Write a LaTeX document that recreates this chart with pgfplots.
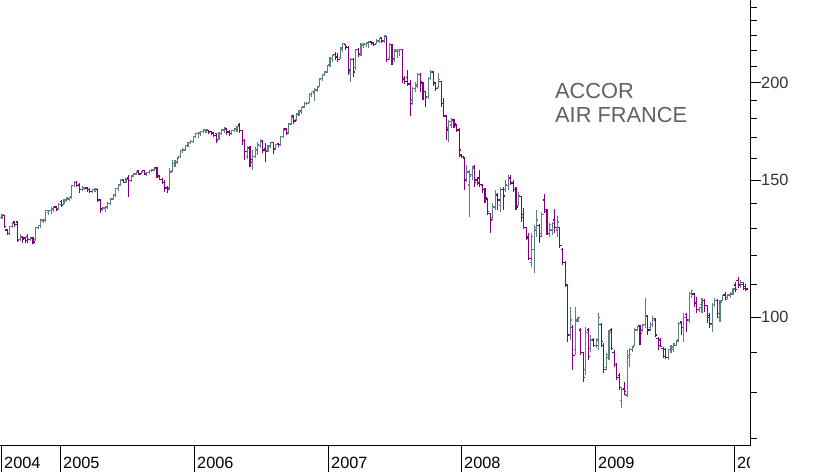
\documentclass[border=0pt]{standalone}
\usepackage{pgfplots}
\usepackage{pgfplotstable}
\pgfplotsset{compat=1.18}
\usepackage{fontspec}
\setmainfont{Liberation Sans}
\definecolor{upc}{RGB}{94,126,134}
\definecolor{dnc}{RGB}{128,0,128}
\pgfdeclareplotmark{tickR}{\pgfpathmoveto{\pgfpointorigin}\pgfpathlineto{\pgfpoint{\pgfplotmarksize}{0pt}}\pgfusepathqstroke}
\pgfdeclareplotmark{tickL}{\pgfpathmoveto{\pgfpoint{-\pgfplotmarksize}{0pt}}\pgfpathlineto{\pgfpointorigin}\pgfusepathqstroke}
\pgfplotstableread{
o h l c
134.1 135.7 133.7 135.3
134.9 135.3 130.2 130.6
129.4 129.8 127.5 127.9
127.9 131.0 127.5 130.6
130.6 132.5 130.2 131.8
132.5 132.9 130.6 131.4
132.5 132.9 124.9 125.3
125.7 127.9 125.3 127.1
126.7 127.1 124.5 125.7
126.4 126.7 124.5 125.3
127.1 127.9 124.5 125.7
125.7 126.7 125.3 126.4
126.4 126.7 124.2 124.9
125.7 130.6 125.3 130.2
130.2 131.4 129.8 131.0
131.0 133.7 130.2 133.3
132.9 133.7 132.1 133.3
133.3 137.3 132.5 136.9
136.1 137.3 135.3 136.9
136.9 138.5 135.7 137.7
137.7 138.9 136.5 138.5
138.5 138.9 136.9 137.3
137.7 140.1 137.7 139.7
140.6 141.4 138.5 139.3
139.7 141.8 139.7 141.4
141.4 142.7 140.6 142.3
141.8 142.7 141.0 142.3
142.7 147.8 141.8 147.4
147.4 149.6 146.9 149.1
149.1 149.6 146.9 147.4
147.8 148.7 144.4 145.7
145.7 147.4 145.2 146.5
146.1 146.9 145.7 146.5
146.5 146.9 144.8 145.7
145.7 146.5 144.4 144.8
144.8 146.1 144.4 145.7
145.7 146.5 144.8 146.1
145.7 146.1 140.6 141.4
141.4 141.8 136.1 137.7
137.3 138.5 136.9 138.1
138.1 138.9 136.5 138.5
138.5 140.6 137.7 140.1
140.1 142.3 139.3 141.8
141.8 143.9 141.4 143.5
143.5 146.5 142.7 146.1
146.1 148.2 145.2 147.8
148.2 150.4 147.4 149.6
150.0 150.4 148.7 149.1
149.1 150.9 148.7 150.4
150.9 152.3 142.7 149.6
149.6 152.3 149.1 151.8
151.8 153.2 151.4 152.7
152.7 154.1 152.3 153.6
154.1 154.5 152.3 152.7
152.7 154.1 152.7 153.6
154.1 154.5 152.3 152.7
152.3 153.6 151.8 153.2
153.2 154.5 152.7 154.1
154.1 155.0 153.6 154.5
154.5 155.9 154.1 155.4
155.4 155.9 150.9 151.4
151.8 152.3 150.0 150.4
150.4 150.9 148.2 149.1
149.1 150.0 144.8 146.5
146.9 147.4 144.4 145.7
146.5 155.4 145.7 153.6
154.1 159.2 153.6 157.7
157.3 159.2 155.9 158.2
158.2 160.6 157.3 160.1
160.6 163.9 160.1 163.5
163.5 164.9 162.5 163.9
163.9 166.4 163.5 165.9
165.9 167.9 165.4 167.4
167.4 168.8 166.9 168.3
168.3 170.9 167.4 170.4
170.4 172.4 169.9 171.9
171.9 172.9 169.9 172.4
171.9 173.4 170.9 172.9
172.9 174.4 172.4 173.9
173.4 174.4 172.4 173.9
173.4 173.9 171.9 172.4
172.9 173.4 171.4 171.9
172.4 172.9 170.4 170.9
171.9 172.4 167.4 168.8
169.3 172.9 168.8 171.9
171.9 174.4 171.4 173.9
173.9 175.5 172.4 174.9
174.4 174.9 171.4 172.4
172.9 173.9 170.9 171.9
171.9 173.9 171.4 173.4
173.4 174.9 172.9 174.4
174.4 176.0 172.9 175.5
176.5 177.5 172.4 173.4
173.4 173.9 166.4 168.8
168.8 169.3 159.2 163.0
160.6 165.9 159.6 164.9
164.9 165.9 155.9 159.2
158.2 163.9 154.5 160.6
160.6 165.4 160.1 163.9
163.9 167.9 161.5 166.4
165.9 169.3 164.9 168.8
168.3 168.8 162.5 163.9
164.4 167.4 158.2 163.0
163.5 166.4 163.0 165.9
165.4 167.9 164.9 167.4
167.4 167.9 162.0 164.4
164.4 166.9 163.9 166.4
166.9 167.4 165.4 166.4
166.4 170.9 165.9 170.4
170.4 174.9 169.9 173.9
174.4 174.9 171.4 171.9
172.4 177.5 171.9 177.0
177.0 181.8 176.5 180.7
181.2 181.8 177.0 178.6
179.1 182.8 178.6 182.3
182.3 184.5 181.2 183.9
183.9 186.1 182.3 185.6
186.1 188.8 185.6 188.3
187.8 188.8 187.2 188.3
188.8 194.0 188.3 192.9
192.9 194.6 191.8 194.6
194.0 196.8 189.4 195.7
195.7 198.0 194.6 197.4
198.0 202.8 197.4 201.6
202.2 205.2 201.0 204.6
204.6 207.0 204.0 206.4
206.4 210.7 205.8 210.1
210.7 215.8 209.5 214.5
214.5 217.1 212.6 216.5
217.1 219.0 213.9 215.2
215.8 218.3 212.6 213.9
215.2 222.2 214.5 221.6
220.9 224.9 219.0 224.3
223.6 224.3 220.3 222.2
221.6 222.9 204.6 207.6
206.4 215.2 200.4 213.9
213.9 215.2 203.4 206.4
208.9 221.0 207.6 220.3
220.3 221.6 215.8 217.1
217.7 224.9 216.5 223.6
222.9 224.9 221.6 224.3
223.6 225.5 222.2 224.9
224.3 226.2 221.6 225.5
225.5 226.2 223.6 224.3
224.9 225.5 222.9 223.6
224.3 227.6 224.3 226.2
226.2 228.3 224.9 227.6
228.3 228.9 224.9 226.2
226.2 230.3 224.9 229.6
228.9 229.6 212.6 213.9
215.2 224.9 213.9 223.6
223.6 224.3 210.7 214.5
213.9 221.0 212.6 220.3
219.6 221.0 215.2 220.3
219.0 221.0 216.5 220.3
220.3 221.0 199.8 201.6
202.2 204.0 199.2 200.4
202.8 207.6 198.0 199.2
199.2 201.6 181.2 187.8
190.0 197.4 187.2 196.8
196.8 200.4 194.6 198.6
198.0 205.8 196.8 204.6
204.6 205.8 194.6 200.4
199.8 200.4 190.0 194.6
194.6 195.1 186.1 191.2
191.8 203.4 190.6 202.2
202.2 207.6 201.6 206.4
206.4 207.0 198.0 199.8
199.8 200.4 195.1 196.8
197.4 205.8 196.8 201.6
200.4 201.0 186.1 187.8
187.8 191.2 180.7 181.2
181.2 181.8 168.8 173.9
174.9 179.1 167.9 178.1
176.5 180.2 174.9 179.1
179.1 179.6 174.9 177.0
176.5 177.0 172.9 173.9
173.9 174.9 160.6 163.9
161.5 162.0 160.1 160.6
160.1 160.6 145.7 150.0
150.0 156.8 149.1 153.6
147.8 154.5 134.5 151.8
152.3 156.3 150.0 155.4
155.9 156.8 146.9 149.1
150.0 151.4 147.8 148.7
150.9 154.5 146.9 148.2
147.8 148.2 144.4 145.7
145.7 146.5 140.1 142.3
141.8 142.3 135.3 136.5
135.7 136.1 128.2 133.3
134.1 140.1 133.3 138.5
138.5 145.7 137.3 143.9
143.5 144.4 137.3 141.4
139.3 146.9 136.5 145.7
145.7 146.9 137.3 143.1
145.7 150.0 144.8 147.8
147.4 152.3 145.7 150.9
150.9 152.3 147.8 148.7
148.7 150.0 144.8 145.7
145.7 146.9 137.3 138.5
139.3 144.8 138.9 143.1
142.7 143.1 132.5 134.1
135.3 138.1 129.8 130.2
130.2 130.6 125.7 126.4
127.1 128.2 118.4 119.1
117.7 128.2 116.0 127.1
122.0 131.4 114.0 130.2
129.4 137.3 126.7 133.3
131.0 131.8 124.5 127.1
128.2 136.5 126.7 135.3
141.4 143.9 136.1 136.5
137.3 137.7 127.5 128.2
128.2 132.1 126.7 131.4
129.4 132.5 127.5 131.8
133.3 137.7 128.2 130.2
129.4 134.9 126.7 132.5
130.2 130.6 122.7 123.5
122.0 122.7 116.7 117.7
117.7 118.1 109.4 110.0
110.0 110.3 93.0 94.9
94.9 103.1 93.5 99.2
96.9 97.8 85.6 89.2
90.8 103.1 89.5 99.2
98.9 100.1 98.6 99.8
96.3 96.9 89.5 90.2
90.0 90.2 82.6 83.6
85.6 97.2 84.3 95.7
96.3 96.9 88.2 89.0
91.3 94.9 90.2 93.5
93.5 94.0 91.6 92.1
92.1 94.0 91.3 93.5
92.1 101.3 90.8 99.8
97.8 98.3 91.6 93.0
92.1 92.7 84.8 85.6
86.1 90.0 85.6 89.5
88.7 96.3 88.2 95.7
96.3 96.9 90.8 91.3
90.2 90.8 86.4 86.9
86.9 87.4 83.1 83.6
84.3 84.8 80.7 81.2
78.3 81.4 76.5 80.7
80.9 82.6 79.5 80.2
79.5 90.8 79.0 89.2
88.7 91.3 86.4 89.5
90.8 91.8 90.2 91.6
92.1 96.9 91.8 96.3
96.3 97.5 96.0 97.2
97.5 97.8 92.1 95.4
96.3 98.0 95.7 97.5
97.8 105.9 96.9 100.4
100.1 100.7 94.9 96.3
96.9 98.6 96.0 98.0
98.0 100.4 97.2 99.5
99.2 99.8 94.3 94.9
94.0 94.3 90.8 92.1
93.5 94.0 91.6 91.8
91.3 91.6 88.7 89.0
90.8 91.3 88.4 88.7
88.7 91.0 88.2 90.8
90.8 92.1 90.0 91.6
90.8 92.7 90.2 92.4
92.1 93.5 91.8 93.0
93.5 98.6 93.0 98.3
98.6 98.9 94.9 96.9
96.9 101.3 93.0 99.8
100.7 101.3 95.7 99.2
99.2 107.8 98.3 107.4
107.4 108.4 105.9 108.1
107.1 107.4 103.1 104.3
104.3 106.2 101.3 102.2
102.2 103.1 101.6 102.8
103.7 105.9 101.3 105.2
105.2 105.5 101.6 103.4
103.4 103.7 98.3 99.8
100.4 101.3 96.9 98.3
97.8 104.3 95.7 103.7
103.7 105.9 103.1 105.2
105.2 105.5 99.8 101.0
99.8 105.2 98.6 104.6
105.2 106.8 104.9 106.5
106.8 107.8 105.2 105.5
105.9 107.1 105.5 106.8
106.5 107.8 105.9 107.4
107.1 109.0 106.8 108.7
110.0 110.9 107.8 108.4
111.6 112.6 109.0 110.0
109.7 111.6 109.0 110.9
110.3 110.9 108.4 109.0
109.4 110.3 108.1 108.7
}\ohlc
\begin{document}
\begin{tikzpicture}
\begin{axis}[
  at={(0,26bp)}, anchor=south west,
  scale only axis, width=750bp, height=446bp,
  ymode=log, ymin=68.37, ymax=255.3,
  xmin=-0.77, xmax=289.6,
  axis x line*=bottom, axis y line*=right,
  axis line style={line width=1bp, black},
  tick align=outside,
  tick style={black, line width=1bp},
  xtick=\empty,
  minor xtick={4.26,8.71,13.36,17.81,27.16,31.49,35.81,40.13,44.46,48.78,53.10,57.42,61.75,66.07,70.40,79.04,83.37,87.69,92.01,96.34,100.66,104.98,109.31,113.63,117.95,122.28,130.89,135.18,139.47,143.76,148.05,152.35,156.64,160.93,165.22,169.51,173.80,182.41,186.74,191.06,195.38,199.71,204.03,208.35,212.68,217.00,221.32,225.65,234.45,238.94,243.42,247.91,252.39,256.88,261.36,265.84,270.33,274.81,279.30,288.2},
  extra x ticks={0,22.84,74.72,126.6,178.09,229.97,283.78},
  extra x tick labels={},
  extra x tick style={major tick length=26bp},
  ytick={100,150,200},
  yticklabels={100,150,200},
  minor ytick={70,80,90,110,120,130,140,160,170,180,190,210,220,230,240,250},
  major tick length=11bp, minor tick length=7bp,
  yticklabel style={anchor=west, inner sep=0pt, font=\fontsize{16.3bp}{18bp}\selectfont, text=black!80},
  clip=false,
]
\addplot[upc, only marks, mark=tickR, mark size=1.8bp, mark options={line width=1.1bp},
  restrict expr to domain={\thisrow{c}-\thisrow{o}}{0:1000},
  error bars/.cd, y dir=both, y explicit, error mark=none,
  error bar style={upc, line width=1.1bp}]
  table[x expr=\coordindex, y=c, y error plus expr=\thisrow{h}-\thisrow{c}, y error minus expr=\thisrow{c}-\thisrow{l}] {\ohlc};
\addplot[upc, only marks, mark=tickL, mark size=1.8bp, mark options={line width=1.1bp},
  restrict expr to domain={\thisrow{c}-\thisrow{o}}{0:1000}]
  table[x expr=\coordindex, y=o] {\ohlc};
\addplot[dnc, only marks, mark=tickR, mark size=1.8bp, mark options={line width=1.1bp},
  restrict expr to domain={\thisrow{c}-\thisrow{o}}{-1000:-0.001},
  error bars/.cd, y dir=both, y explicit, error mark=none,
  error bar style={dnc, line width=1.1bp}]
  table[x expr=\coordindex, y=c, y error plus expr=\thisrow{h}-\thisrow{c}, y error minus expr=\thisrow{c}-\thisrow{l}] {\ohlc};
\addplot[dnc, only marks, mark=tickL, mark size=1.8bp, mark options={line width=1.1bp},
  restrict expr to domain={\thisrow{c}-\thisrow{o}}{-1000:-0.001}]
  table[x expr=\coordindex, y=o] {\ohlc};
\end{axis}
\node[anchor=base west, inner sep=0pt, font=\fontsize{21.8bp}{24bp}\selectfont, text=black!62] at (555bp,373.7bp) {ACCOR};
\node[anchor=base west, inner sep=0pt, font=\fontsize{21.8bp}{24bp}\selectfont, text=black!62] at (555bp,349.3bp) {AIR FRANCE};
\begin{scope}
\clip (0,0) rectangle (749.5bp,26bp);
\foreach \x/\t in {4/2004,63/2005,197/2006,331/2007,464/2008,598/2009,737/2010}
  \node[anchor=base west, inner sep=0pt, font=\fontsize{16.3bp}{18bp}\selectfont] at (\x bp,4bp) {\t};
\end{scope}
\pgfresetboundingbox
\path[use as bounding box] (0,0) rectangle (817bp,472bp);
\end{tikzpicture}
\end{document}
